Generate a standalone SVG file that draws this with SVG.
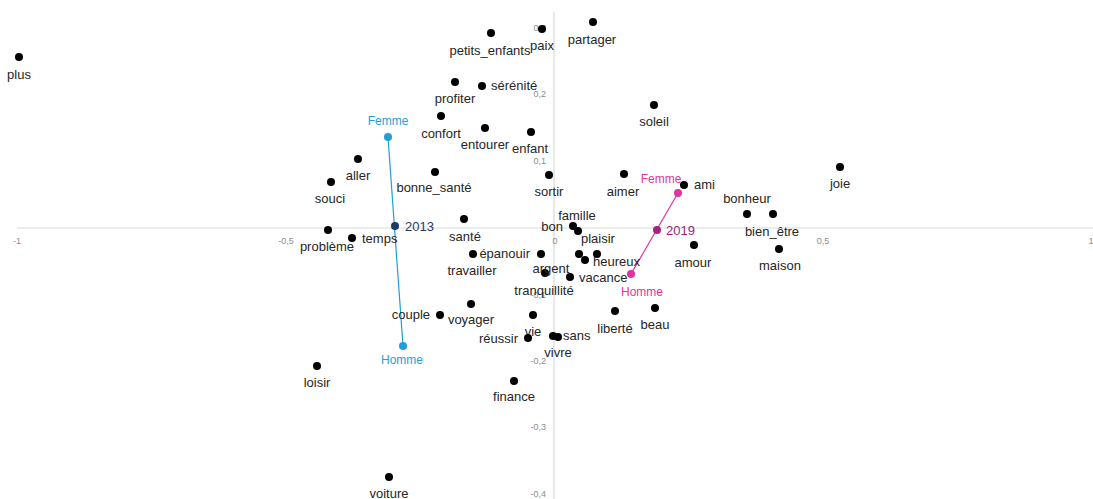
<svg xmlns="http://www.w3.org/2000/svg" width="1093" height="499" viewBox="0 0 1093 499">
<style>
.lbl{font-family:"Liberation Sans",Arial,sans-serif;font-size:13px;fill:#262626}
.tk{font-family:"Liberation Sans",Arial,sans-serif;font-size:9px;fill:#8c8c8c}
.m{text-anchor:middle}.e{text-anchor:end}
.d{fill:#000}
.ax{stroke:#d9d9d9;stroke-width:1.2;fill:none}
.bl{fill:#1f9fd8}.blt{font-family:"Liberation Sans",Arial,sans-serif;font-size:12px;fill:#1f9fd8}
.nv{fill:#1f3864}.nvt{font-family:"Liberation Sans",Arial,sans-serif;font-size:13px;fill:#1f3864}
.pk{fill:#e0359d}.pkt{font-family:"Liberation Sans",Arial,sans-serif;font-size:12px;fill:#e0359d}
.mg{fill:#a3237f}.mgt{font-family:"Liberation Sans",Arial,sans-serif;font-size:13px;fill:#a3237f}
</style>
<rect width="1093" height="499" fill="#fff"/>
<g id="axes">
<line class="ax" x1="17" y1="228" x2="1093" y2="228"/>
<line class="ax" x1="554" y1="12" x2="554" y2="499"/>
<text class="tk m" x="17" y="244">-1</text>
<text class="tk m" x="286" y="244">-0,5</text>
<text class="tk m" x="555" y="244">0</text>
<text class="tk m" x="823" y="244">0,5</text>
<text class="tk m" x="1091" y="244">1</text>
<text class="tk e" x="546" y="31">0,3</text>
<text class="tk e" x="546" y="97">0,2</text>
<text class="tk e" x="546" y="164">0,1</text>
<text class="tk e" x="546" y="298">-0,1</text>
<text class="tk e" x="546" y="364">-0,2</text>
<text class="tk e" x="546" y="430">-0,3</text>
<text class="tk e" x="546" y="497">-0,4</text>
</g>
<g id="connectors">
<line x1="388" y1="137" x2="403" y2="346" stroke="#1f9fd8" stroke-width="1.2"/>
<line x1="678" y1="193" x2="631" y2="274" stroke="#e0359d" stroke-width="1.2"/>
</g>
<g id="n-plus"><circle class="d" cx="19" cy="57" r="4"/><text class="lbl m" x="19" y="79">plus</text></g>
<g id="n-souci"><circle class="d" cx="331" cy="182" r="4"/><text class="lbl m" x="330" y="203">souci</text></g>
<g id="n-aller"><circle class="d" cx="358" cy="159" r="4"/><text class="lbl m" x="358" y="180">aller</text></g>
<g id="n-probleme"><circle class="d" cx="328" cy="230" r="4"/><text class="lbl m" x="327" y="251">problème</text></g>
<g id="n-temps"><circle class="d" cx="352" cy="238" r="4"/><text class="lbl" x="362" y="243">temps</text></g>
<g id="n-sante"><circle class="d" cx="464" cy="219" r="4"/><text class="lbl m" x="465" y="241">santé</text></g>
<g id="n-travailler"><circle class="d" cx="473" cy="254" r="4"/><text class="lbl m" x="472" y="275">travailler</text></g>
<g id="n-epanouir"><circle class="d" cx="541" cy="254" r="4"/><text class="lbl e" x="530" y="258">épanouir</text></g>
<g id="n-petits_enfants"><circle class="d" cx="491" cy="33" r="4"/><text class="lbl m" x="490" y="55">petits_enfants</text></g>
<g id="n-paix"><circle class="d" cx="542" cy="29" r="4"/><text class="lbl m" x="542" y="50">paix</text></g>
<g id="n-partager"><circle class="d" cx="593" cy="22" r="4"/><text class="lbl m" x="592" y="44">partager</text></g>
<g id="n-profiter"><circle class="d" cx="455" cy="82" r="4"/><text class="lbl m" x="455" y="103">profiter</text></g>
<g id="n-serenite"><circle class="d" cx="482" cy="86" r="4"/><text class="lbl" x="491" y="90">sérénité</text></g>
<g id="n-confort"><circle class="d" cx="441" cy="116" r="4"/><text class="lbl m" x="441" y="138">confort</text></g>
<g id="n-entourer"><circle class="d" cx="485" cy="128" r="4"/><text class="lbl m" x="485" y="149">entourer</text></g>
<g id="n-enfant"><circle class="d" cx="531" cy="132" r="4"/><text class="lbl m" x="530" y="153">enfant</text></g>
<g id="n-bonne_sante"><circle class="d" cx="435" cy="172" r="4"/><text class="lbl m" x="434" y="192">bonne_santé</text></g>
<g id="n-sortir"><circle class="d" cx="549" cy="175" r="4"/><text class="lbl m" x="549" y="196">sortir</text></g>
<g id="n-aimer"><circle class="d" cx="624" cy="174" r="4"/><text class="lbl m" x="623" y="196">aimer</text></g>
<g id="n-soleil"><circle class="d" cx="654" cy="105" r="4"/><text class="lbl m" x="654" y="126">soleil</text></g>
<g id="n-ami"><circle class="d" cx="684" cy="185" r="4"/><text class="lbl" x="694" y="189">ami</text></g>
<g id="n-famille"><circle class="d" cx="573" cy="226" r="4"/><text class="lbl m" x="577" y="220">famille</text></g>
<g id="n-bon"><text class="lbl e" x="563" y="231">bon</text></g>
<g id="n-plaisir"><circle class="d" cx="578" cy="231" r="4"/><text class="lbl" x="581" y="243">plaisir</text></g>
<g id="n-heureux"><circle class="d" cx="579" cy="254" r="4"/><circle class="d" cx="585" cy="260" r="4"/><circle class="d" cx="597" cy="254" r="4"/><text class="lbl" x="593" y="266">heureux</text></g>
<g id="n-argent"><circle class="d" cx="545" cy="273" r="4"/><text class="lbl m" x="551" y="273">argent</text></g>
<g id="n-tranquillite"><text class="lbl m" x="544" y="295">tranquillité</text></g>
<g id="n-vacance"><circle class="d" cx="570" cy="277" r="4"/><text class="lbl" x="579" y="282">vacance</text></g>
<g id="n-amour"><circle class="d" cx="694" cy="245" r="4"/><text class="lbl m" x="693" y="267">amour</text></g>
<g id="n-bonheur"><circle class="d" cx="747" cy="214" r="4"/><text class="lbl m" x="747" y="203">bonheur</text></g>
<g id="n-bien_etre"><circle class="d" cx="773" cy="214" r="4"/><text class="lbl m" x="772" y="236">bien_être</text></g>
<g id="n-maison"><circle class="d" cx="779" cy="249" r="4"/><text class="lbl m" x="780" y="270">maison</text></g>
<g id="n-joie"><circle class="d" cx="840" cy="167" r="4"/><text class="lbl m" x="840" y="188">joie</text></g>
<g id="n-voyager"><circle class="d" cx="471" cy="304" r="4"/><text class="lbl m" x="471" y="324">voyager</text></g>
<g id="n-couple"><circle class="d" cx="440" cy="315" r="4"/><text class="lbl e" x="430" y="319">couple</text></g>
<g id="n-vie"><circle class="d" cx="533" cy="315" r="4"/><text class="lbl m" x="533" y="336">vie</text></g>
<g id="n-reussir"><circle class="d" cx="528" cy="338" r="4"/><text class="lbl e" x="518" y="343">réussir</text></g>
<g id="n-sans"><circle class="d" cx="553" cy="336" r="4"/><text class="lbl" x="563" y="340">sans</text></g>
<g id="n-vivre"><circle class="d" cx="558" cy="337" r="4"/><text class="lbl m" x="558" y="357">vivre</text></g>
<g id="n-finance"><circle class="d" cx="514" cy="381" r="4"/><text class="lbl m" x="514" y="401">finance</text></g>
<g id="n-liberte"><circle class="d" cx="615" cy="311" r="4"/><text class="lbl m" x="615" y="333">liberté</text></g>
<g id="n-beau"><circle class="d" cx="655" cy="308" r="4"/><text class="lbl m" x="655" y="329">beau</text></g>
<g id="n-voiture"><circle class="d" cx="389" cy="477" r="4"/><text class="lbl m" x="389" y="498">voiture</text></g>
<g id="n-loisir"><circle class="d" cx="317" cy="366" r="4"/><text class="lbl m" x="317" y="387">loisir</text></g>
<g id="n-femme-2013"><circle class="bl" cx="388" cy="137" r="4"/><text class="blt m" x="388" y="125">Femme</text></g>
<g id="n-homme-2013"><circle class="bl" cx="403" cy="346" r="4"/><text class="blt m" x="402" y="364">Homme</text></g>
<g id="n-2013"><circle class="nv" cx="395" cy="226" r="4"/><text class="nvt" x="405" y="231">2013</text></g>
<g id="n-femme-2019"><circle class="pk" cx="678" cy="193" r="4"/><text class="pkt m" x="661" y="183">Femme</text></g>
<g id="n-homme-2019"><circle class="pk" cx="631" cy="274" r="4"/><text class="pkt m" x="642" y="296">Homme</text></g>
<g id="n-2019"><circle class="mg" cx="657" cy="230" r="4"/><text class="mgt" x="666" y="235">2019</text></g>
</svg>
